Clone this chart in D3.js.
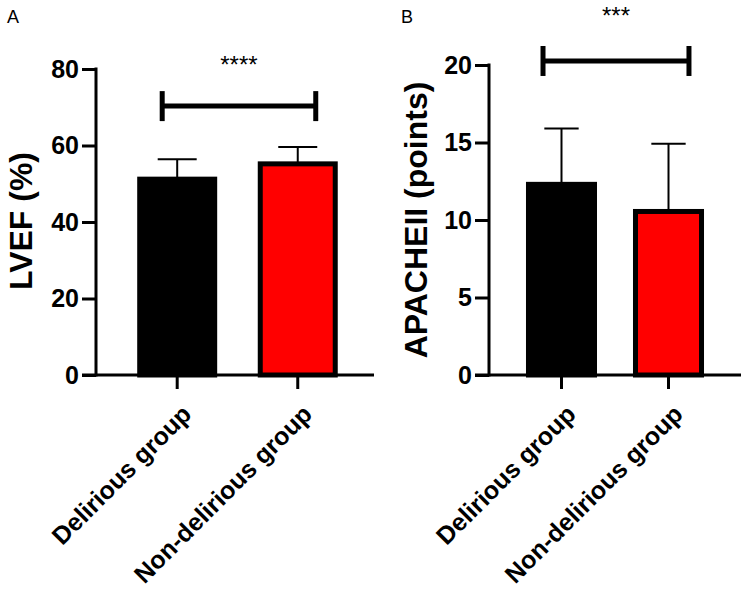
<!DOCTYPE html>
<html>
<head>
<meta charset="utf-8">
<script src="https://cdn.jsdelivr.net/npm/d3@7"></script>
<style>
  html, body { margin: 0; padding: 0; background: #fff; }
  svg { display: block; font-family: "Liberation Sans", Arial, sans-serif; }
</style>
</head>
<body>
<svg id="chart" width="749" height="594"></svg>
<script>
// ---------- data ----------
const categories = ["Delirious group", "Non-delirious group"];
const barColors = ["#000000", "#ff0000"];

const lvefMeans = [51.2, 55.2];
const lvefSD = [5.2, 4.4];
const lvefTicks = [0, 20, 40, 60, 80];
const lvefSig = { from: 0, to: 1, level: 70.3, label: "****" };

const apacheMeans = [12.3, 10.55];
const apacheSD = [3.6, 4.37];
const apacheTicks = [0, 5, 10, 15, 20];
const apacheSig = { from: 0, to: 1, level: 20.26, label: "***" };

// ---------- layout ----------
const panels = [
  { letter: "A", letterX: 7, title: "LVEF (%)", titleX: 32, titleY: 221,
    means: lvefMeans, sd: lvefSD, ticks: lvefTicks, sig: lvefSig, yMax: 80,
    x0: 96, x1: 374, y0: 375, yTop: 69,
    pInner: 0.378, pOuter: 0.342, align: 0.53,
    brL: 0.30, brR: 0.74, starDy: -33 },
  { letter: "B", letterX: 401, title: "APACHEII (points)", titleX: 427, titleY: 220,
    means: apacheMeans, sd: apacheSD, ticks: apacheTicks, sig: apacheSig, yMax: 20,
    x0: 489, x1: 741, y0: 375, yTop: 65,
    pInner: 0.383, pOuter: 0.369, align: 0.5,
    brL: 0.22, brR: 0.81, starDy: -37 }
];

const svg = d3.select("#chart");

panels.forEach(p => {
  const g = svg.append("g");
  const x = d3.scaleBand().domain(categories).range([p.x0, p.x1])
    .paddingInner(p.pInner).paddingOuter(p.pOuter).align(p.align);
  const y = d3.scaleLinear().domain([0, p.yMax]).range([p.y0, p.yTop]);
  const bw = x.bandwidth();

  // panel letter
  g.append("text").attr("x", p.letterX).attr("y", 23)
    .attr("font-size", 18).attr("fill", "#000").text(p.letter);

  // error bars (drawn first, bar stroke covers the base)
  categories.forEach((c, i) => {
    const cx = x(c) + bw / 2;
    g.append("line").attr("x1", cx).attr("x2", cx)
      .attr("y1", y(p.means[i])).attr("y2", y(p.means[i] + p.sd[i]))
      .attr("stroke", "#000").attr("stroke-width", 2);
    g.append("line").attr("x1", cx - bw * 0.26).attr("x2", cx + bw * 0.26)
      .attr("y1", y(p.means[i] + p.sd[i])).attr("y2", y(p.means[i] + p.sd[i]))
      .attr("stroke", "#000").attr("stroke-width", 2);
  });

  // bars
  g.selectAll("rect.bar").data(categories).enter().append("rect")
    .attr("class", "bar")
    .attr("x", c => x(c))
    .attr("width", bw)
    .attr("y", (c, i) => y(p.means[i]))
    .attr("height", (c, i) => y(0) - y(p.means[i]))
    .attr("fill", (c, i) => barColors[i])
    .attr("stroke", "#000").attr("stroke-width", 5);

  // y axis
  const yAxis = d3.axisLeft(y).tickValues(p.ticks).tickSize(14).tickPadding(3);
  const ya = g.append("g").attr("transform", `translate(${p.x0},0)`).call(yAxis);
  ya.select(".domain").attr("stroke-width", 3).attr("d", `M0,${p.yTop - 1.5}V${p.y0 + 1.5}`);
  ya.selectAll(".tick line").attr("stroke-width", 3);
  ya.selectAll(".tick text").attr("font-size", 25).attr("font-weight", "bold")
    .attr("font-family", "Liberation Sans, Arial, sans-serif").attr("fill", "#000");

  // x axis
  const xAxis = d3.axisBottom(x).tickSize(14).tickFormat("");
  const xa = g.append("g").attr("transform", `translate(0,${p.y0})`).call(xAxis);
  xa.select(".domain").attr("stroke-width", 3).attr("d", `M${p.x0 - 14},0H${p.x1}`);
  xa.selectAll(".tick line").attr("stroke-width", 3);

  // rotated category labels
  g.selectAll("text.xlab").data(categories).enter().append("text")
    .attr("class", "xlab")
    .attr("transform", c => `translate(${x(c) + bw / 2 + 3},${p.y0 + 28}) rotate(-45)`)
    .attr("text-anchor", "end").attr("dy", "0.72em")
    .attr("font-size", 25).attr("font-weight", "bold").attr("fill", "#000")
    .text(c => c);

  // y title
  g.append("text")
    .attr("transform", `translate(${p.titleX},${p.titleY}) rotate(-90)`)
    .attr("text-anchor", "middle")
    .attr("font-size", 32).attr("font-weight", "bold").attr("fill", "#000")
    .text(p.title);

  // significance bracket
  const s = p.sig;
  const bx1 = x(categories[s.from]) + bw * p.brL;
  const bx2 = x(categories[s.to]) + bw * p.brR;
  const by = y(s.level);
  g.append("line").attr("x1", bx1).attr("x2", bx2).attr("y1", by).attr("y2", by)
    .attr("stroke", "#000").attr("stroke-width", 5);
  [bx1, bx2].forEach(bx => {
    g.append("line").attr("x1", bx).attr("x2", bx).attr("y1", by - 15).attr("y2", by + 15)
      .attr("stroke", "#000").attr("stroke-width", 5);
  });
  g.append("text").attr("x", (bx1 + bx2) / 2).attr("y", by + p.starDy)
    .attr("text-anchor", "middle").attr("font-size", 24).attr("fill", "#000")
    .text(s.label);
});
</script>
</body>
</html>
